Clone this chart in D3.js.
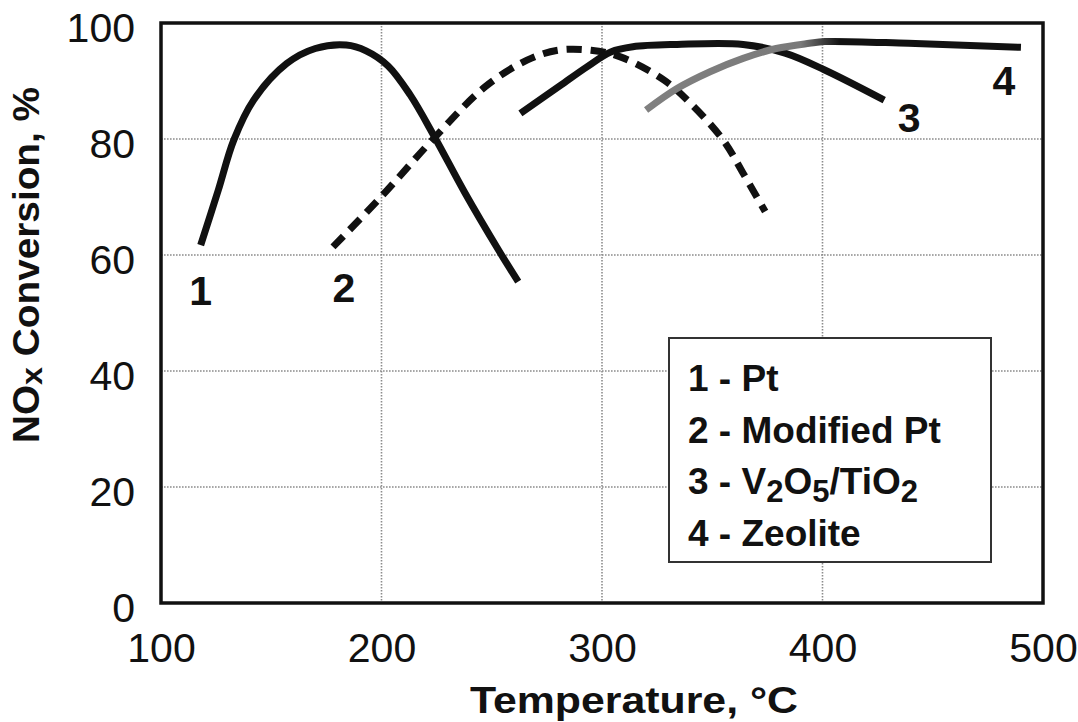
<!DOCTYPE html>
<html>
<head>
<meta charset="utf-8">
<script src="https://cdn.jsdelivr.net/npm/d3@7"></script>
<style>
  html, body { margin: 0; padding: 0; background: #fff; }
  svg { display: block; font-family: "Liberation Sans", Arial, Helvetica, sans-serif; }
</style>
</head>
<body>
<svg id="chart" width="1078" height="722"></svg>
<script>
// ---- data -------------------------------------------------------------
const xTicks = [100, 200, 300, 400, 500];
const yTicks = [0, 20, 40, 60, 80, 100];
const xGrid = [200, 300, 400];
const yGrid = [20, 40, 60, 80];

// 1 - Pt
const ptTemp = [118, 126, 133, 142, 157, 170, 184, 193, 203, 213, 224, 238, 253, 262];
const ptConv = [61.7, 71.2, 79.8, 86.7, 93.0, 95.6, 96.2, 95.2, 92.6, 87.6, 80.4, 70.6, 60.9, 55.4];
// 2 - Modified Pt
const modPtTemp = [178, 200, 223, 247, 266, 280, 295, 308, 328, 340, 355, 364, 374];
const modPtConv = [61.4, 70.1, 79.8, 89.0, 93.6, 95.3, 95.3, 94.2, 90.2, 86.2, 79.8, 74.1, 67.5];
// 3 - V2O5/TiO2
const vanTemp = [263, 281, 293, 304, 314, 334, 364, 383, 401, 428];
const vanConv = [84.4, 89.2, 92.4, 95.0, 95.9, 96.3, 96.3, 94.8, 91.9, 86.7];
// 4 - Zeolite
const zeoTemp = [320, 334, 349, 364, 379, 394, 401, 439, 490];
const zeoConv = [85.0, 88.7, 91.6, 93.9, 95.6, 96.5, 96.8, 96.5, 95.8];

// ---- layout -----------------------------------------------------------
const svg = d3.select("#chart");
const plotL = 161, plotR = 1043, plotT = 23, plotB = 603;

const x = d3.scaleLinear().domain([100, 500]).range([plotL, plotR]);
const y = d3.scaleLinear().domain([0, 100]).range([plotB, plotT]);

const FONT = '"Liberation Sans", Arial, Helvetica, sans-serif';

// dotted grid
const grid = svg.append("g").attr("stroke", "#8c8c8c").attr("stroke-width", 1.6)
  .attr("stroke-dasharray", "1.6,1.4").attr("fill", "none");
grid.selectAll("line.v").data(xGrid).join("line").attr("class", "v")
  .attr("x1", d => x(d)).attr("x2", d => x(d)).attr("y1", plotT).attr("y2", plotB);
grid.selectAll("line.h").data(yGrid).join("line").attr("class", "h")
  .attr("x1", plotL).attr("x2", plotR).attr("y1", d => y(d)).attr("y2", d => y(d));

// axes (labels only, frame drawn separately)
const xAxis = d3.axisBottom(x).tickValues(xTicks).tickSize(0).tickPadding(0);
const gx = svg.append("g").attr("transform", `translate(0,${plotB})`).call(xAxis);
gx.select(".domain").remove();
gx.selectAll("text").attr("y", 59).attr("dy", 0)
  .style("font-family", FONT).style("font-size", "41px").attr("fill", "#111");

const yAxis = d3.axisLeft(y).tickValues(yTicks).tickSize(0).tickPadding(0);
const gy = svg.append("g").attr("transform", `translate(${plotL},0)`).call(yAxis);
gy.select(".domain").remove();
gy.selectAll("text").attr("x", -26).attr("dy", "0.45em")
  .style("font-family", FONT).style("font-size", "41px").attr("fill", "#111");

// axis titles
svg.append("text")
  .attr("x", 470).attr("y", 713)
  .attr("textLength", 328).attr("lengthAdjust", "spacingAndGlyphs")
  .style("font-family", FONT).style("font-size", "36px").style("font-weight", "bold")
  .attr("fill", "#111")
  .text("Temperature, °C");

const yTitle = svg.append("text")
  .attr("transform", "translate(39,443) rotate(-90)")
  .attr("textLength", 356).attr("lengthAdjust", "spacingAndGlyphs")
  .style("font-family", FONT).style("font-size", "36px").style("font-weight", "bold")
  .attr("fill", "#111");
yTitle.append("tspan").text("NO");
yTitle.append("tspan").attr("dy", 3).style("font-size", "30px").text("x");
yTitle.append("tspan").attr("dy", -3).text(" Conversion, %");

// zeolite line: grey on the rising part, black on the plateau
const defs = svg.append("defs");
const grad = defs.append("linearGradient").attr("id", "zeoGrad")
  .attr("gradientUnits", "userSpaceOnUse")
  .attr("x1", x(320)).attr("x2", x(500)).attr("y1", 0).attr("y2", 0);
const g0 = (x(390) - x(320)) / (x(500) - x(320));
const g1 = (x(408) - x(320)) / (x(500) - x(320));
grad.append("stop").attr("offset", 0).attr("stop-color", "#808080");
grad.append("stop").attr("offset", g0).attr("stop-color", "#7a7a7a");
grad.append("stop").attr("offset", g1).attr("stop-color", "#111");
grad.append("stop").attr("offset", 1).attr("stop-color", "#111");

// curves
const line = d3.line().x(d => x(d[0])).y(d => y(d[1])).curve(d3.curveCatmullRom.alpha(0.5));
const zip = (a, b) => a.map((v, i) => [v, b[i]]);

const series = [
  { id: "1", pts: zip(ptTemp, ptConv), stroke: "#111", dash: null },
  { id: "2", pts: zip(modPtTemp, modPtConv), stroke: "#111", dash: "15,9" },
  { id: "3", pts: zip(vanTemp, vanConv), stroke: "#111", dash: null },
  { id: "4", pts: zip(zeoTemp, zeoConv), stroke: "url(#zeoGrad)", dash: null }
];

svg.append("g").selectAll("path").data(series).join("path")
  .attr("d", d => line(d.pts))
  .attr("fill", "none")
  .attr("stroke", d => d.stroke)
  .attr("stroke-width", 7)
  .attr("stroke-dasharray", d => d.dash);

// curve number labels, placed relative to a curve end
const labelSpec = {
  "1": { at: "start", dx: 0, dy: 45 },
  "2": { at: "start", dx: 11, dy: 40 },
  "3": { at: "end", dx: 25, dy: 17 },
  "4": { at: "end", dx: -17, dy: 33 }
};
const anchorPt = d => labelSpec[d.id].at === "start" ? d.pts[0] : d.pts[d.pts.length - 1];
svg.append("g").selectAll("text").data(series).join("text")
  .attr("x", d => x(anchorPt(d)[0]) + labelSpec[d.id].dx)
  .attr("y", d => y(anchorPt(d)[1]) + labelSpec[d.id].dy + 15)
  .attr("text-anchor", "middle")
  .style("font-family", FONT).style("font-size", "41px").style("font-weight", "bold")
  .attr("fill", "#111")
  .text(d => d.id);

// plot frame
svg.append("rect")
  .attr("x", plotL).attr("y", plotT).attr("width", plotR - plotL).attr("height", plotB - plotT)
  .attr("fill", "none").attr("stroke", "#111").attr("stroke-width", 3.5);

// legend
const legend = svg.append("g");
legend.append("rect")
  .attr("x", 669).attr("y", 338).attr("width", 322).attr("height", 224)
  .attr("fill", "#fff").attr("stroke", "#333").attr("stroke-width", 2);

const legendRows = [
  [["1 - Pt", 0]],
  [["2 - Modified Pt", 0]],
  [["3 - V", 0], ["2", 1], ["O", 0], ["5", 1], ["/TiO", 0], ["2", 1]],
  [["4 - Zeolite", 0]]
];
legendRows.forEach((row, i) => {
  const t = legend.append("text")
    .attr("x", 688).attr("y", 391 + i * 51.5)
    .style("font-family", FONT).style("font-size", "37px").style("font-weight", "bold")
    .attr("fill", "#111");
  let shifted = false;
  row.forEach(([s, sub]) => {
    const ts = t.append("tspan").text(s);
    if (sub && !shifted) { ts.attr("dy", 8).style("font-size", "31px"); shifted = true; }
    else if (sub) { ts.style("font-size", "31px"); }
    else if (!sub && shifted) { ts.attr("dy", -8); shifted = false; }
  });
});
</script>
</body>
</html>
